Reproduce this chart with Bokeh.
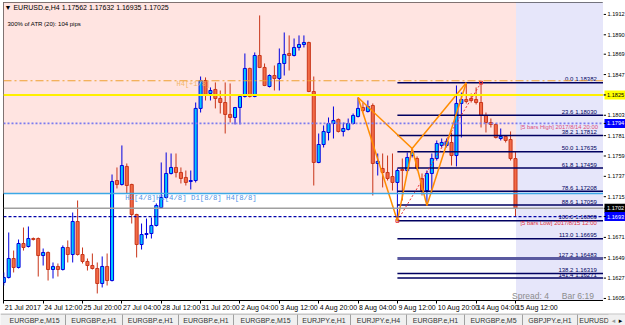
import math
from bokeh.plotting import figure
from bokeh.layouts import column, row
from bokeh.models import (Range1d, FixedTicker, Span, LinearAxis, CustomJSTickFormatter)
from bokeh.embed import file_html
from bokeh.resources import INLINE
from bokeh.core.properties import value

# ---------------- data ----------------
symbol = "EURUSD.e,H4"
atr_text = "300% of ATR (20):   104 pips"

date_ticks = [0, 8, 16, 24, 32, 40, 48, 56, 64, 72, 80, 88, 96, 104]
date_labels = ["21 Jul 2017", "24 Jul 12:00", "25 Jul 20:00", "27 Jul 04:00", "28 Jul 12:00",
               "31 Jul 20:00", "2 Aug 04:00", "3 Aug 12:00", "4 Aug 20:00", "8 Aug 04:00",
               "9 Aug 12:00", "10 Aug 20:00", "14 Aug 04:00", "15 Aug 12:00"]

price_ticks = [1.1912, 1.1890, 1.1869, 1.1847, 1.1825, 1.1803, 1.1781, 1.1759, 1.1737,
               1.1715, 1.1671, 1.1649, 1.1627, 1.1605]

opens = [1.16223, 1.16277, 1.16482, 1.16385, 1.16644, 1.16612, 1.16698, 1.16698, 1.16514, 1.16547,
         1.16363, 1.16396, 1.16363, 1.16601, 1.16525, 1.16882, 1.16525, 1.16450, 1.16406, 1.16374,
         1.16212, 1.16396, 1.16244, 1.17325, 1.17282, 1.17477, 1.17282, 1.16958, 1.16633, 1.16741,
         1.16752, 1.16839, 1.17033, 1.17141, 1.17401, 1.17466, 1.17412, 1.17358, 1.17314, 1.17325,
         1.18104, 1.18406, 1.18266, 1.18309, 1.18212, 1.18168, 1.18039, 1.18006, 1.18114, 1.18233,
         1.18536, 1.18233, 1.18676, 1.18547, 1.18341, 1.18460, 1.18428, 1.18590, 1.18698, 1.18676,
         1.18763, 1.18795, 1.18817, 1.18287, 1.17520, 1.17714, 1.17844, 1.17941, 1.17985, 1.17855,
         1.17877, 1.17941, 1.18017, 1.18114, 1.18071, 1.18136, 1.17509, 1.17455, 1.17412, 1.17368,
         1.17304, 1.17444, 1.17433, 1.17595, 1.17563, 1.17347, 1.17217, 1.17401, 1.17563, 1.17704,
         1.17704, 1.17736, 1.17595, 1.18158, 1.18201, 1.18212, 1.18201, 1.18168, 1.18028, 1.17952,
         1.17931, 1.17779, 1.17801, 1.17768, 1.17562]
highs = [1.16331, 1.16763, 1.16568, 1.16687, 1.16817, 1.16828, 1.16709, 1.16709, 1.16590, 1.16558,
         1.16439, 1.16428, 1.16623, 1.16677, 1.16979, 1.17109, 1.16601, 1.16482, 1.16536, 1.16439,
         1.16504, 1.16536, 1.17390, 1.17466, 1.17704, 1.17509, 1.17290, 1.16965, 1.16860, 1.16914,
         1.16925, 1.17077, 1.17520, 1.17628, 1.17617, 1.17617, 1.17466, 1.17433, 1.17433, 1.18168,
         1.18449, 1.18439, 1.18331, 1.18385, 1.18298, 1.18385, 1.18374, 1.18120, 1.18244, 1.18698,
         1.18545, 1.18709, 1.19109, 1.18590, 1.18471, 1.18568, 1.18752, 1.18925, 1.18893, 1.18860,
         1.18893, 1.18893, 1.18825, 1.18449, 1.17833, 1.17920, 1.18006, 1.18125, 1.17995, 1.17952,
         1.17995, 1.18049, 1.18222, 1.18168, 1.18190, 1.18158, 1.17617, 1.17617, 1.17595, 1.17617,
         1.17455, 1.17563, 1.17628, 1.17671, 1.17585, 1.17401, 1.17433, 1.17617, 1.17758, 1.17779,
         1.17779, 1.17844, 1.18352, 1.18276, 1.18382, 1.18266, 1.18331, 1.18382, 1.18060, 1.17995,
         1.17942, 1.17887, 1.17812, 1.17855, 1.17632]
lows = [1.16190, 1.16266, 1.16331, 1.16374, 1.16568, 1.16601, 1.16677, 1.16287, 1.16406, 1.16244,
        1.16266, 1.16287, 1.16352, 1.16439, 1.16439, 1.16514, 1.16428, 1.16352, 1.16363, 1.16104,
        1.16169, 1.16190, 1.16234, 1.17239, 1.17271, 1.17185, 1.16860, 1.16493, 1.16579, 1.16698,
        1.16698, 1.16828, 1.17023, 1.17130, 1.17390, 1.17358, 1.17293, 1.17271, 1.17228, 1.17304,
        1.18060, 1.18190, 1.18190, 1.18104, 1.18049, 1.17833, 1.17952, 1.17931, 1.17931, 1.18222,
        1.18222, 1.18225, 1.18540, 1.18345, 1.18331, 1.18298, 1.18298, 1.18460, 1.18514, 1.18666,
        1.18730, 1.18763, 1.18280, 1.17271, 1.17512, 1.17682, 1.17758, 1.17779, 1.17844, 1.17801,
        1.17866, 1.17931, 1.18006, 1.18060, 1.18060, 1.17163, 1.17379, 1.17250, 1.17325, 1.17217,
        1.16889, 1.17109, 1.17412, 1.17574, 1.17433, 1.17163, 1.17055, 1.17185, 1.17541, 1.17682,
        1.17682, 1.17487, 1.17477, 1.17790, 1.18158, 1.18168, 1.18147, 1.17898, 1.17844, 1.17898,
        1.17779, 1.17758, 1.17736, 1.17541, 1.16935]
closes = [1.16277, 1.16482, 1.16385, 1.16644, 1.16601, 1.16698, 1.16687, 1.16514, 1.16547, 1.16363,
          1.16396, 1.16363, 1.16601, 1.16525, 1.16882, 1.16525, 1.16450, 1.16406, 1.16374, 1.16212,
          1.16396, 1.16244, 1.17314, 1.17282, 1.17487, 1.17271, 1.16958, 1.16633, 1.16741, 1.16752,
          1.16839, 1.17055, 1.17141, 1.17401, 1.17466, 1.17412, 1.17347, 1.17304, 1.17325, 1.18104,
          1.18406, 1.18255, 1.18298, 1.18212, 1.18168, 1.18039, 1.18006, 1.18114, 1.18233, 1.18536,
          1.18233, 1.18676, 1.18547, 1.18352, 1.18460, 1.18428, 1.18590, 1.18687, 1.18676, 1.18763,
          1.18795, 1.18817, 1.18287, 1.17520, 1.17714, 1.17855, 1.17941, 1.17974, 1.17855, 1.17887,
          1.17941, 1.18028, 1.18104, 1.18082, 1.18125, 1.17509, 1.17531, 1.17412, 1.17347, 1.17304,
          1.17433, 1.17433, 1.17574, 1.17628, 1.17455, 1.17217, 1.17401, 1.17563, 1.17725, 1.17736,
          1.17747, 1.17595, 1.18158, 1.18201, 1.18179, 1.18190, 1.18168, 1.18028, 1.17952, 1.17931,
          1.17790, 1.17801, 1.17758, 1.17562, 1.17025]

# Murrey-style levels and zones
level_yellow = 1.1825
level_orange = 1.18403
level_cyan = 1.17185
zone_split_bar = 104.1

# Fibonacci retracement / expansion
fib_levels = [0.0, 23.6, 38.2, 50.0, 61.8, 78.6, 88.6, 100.0, 113.0, 127.2, 138.2, 141.4]
fib_prices = [1.18382, 1.18030, 1.17812, 1.17635, 1.17459, 1.17208, 1.17059, 1.16889,
              1.16695, 1.16483, 1.16319, 1.16271]
fib_low_bar, fib_high_bar = 80, 97

# harmonic zigzag points X, A, B, C, D
zz_bars = [72, 80, 83, 86, 94]
zz_prices = [1.18222, 1.16889, 1.17671, 1.17055, 1.18382]
zz_pairs = [(0, 1), (1, 2), (0, 2), (2, 3), (3, 4), (2, 4)]

tabs = ["EURGBP.e,M15", "EURGBP.e,H1", "EURGBP.e,H1", "EURGBP.e,H1", "EURGBP.e,M15",
        "EURJPY.e,H1", "EURJPY.e,H4", "EURGBP.e,H1", "EURGBP.e,M5", "GBPJPY.e,H1", "EURUSD"]
tab_edges = [3, 65, 122, 178, 233, 297, 350, 406, 464, 522, 577, 610]

# ---------------- main chart ----------------
X0, X1 = -0.061, 121.89
Y0, Y1 = 1.16028, 1.19249
BAR_PX = 600.0 / (X1 - X0)
PPX = (Y1 - Y0) / 298.0
FONT = "Liberation Sans"

p = figure(frame_width=600, frame_height=298, x_range=Range1d(X0, X1), y_range=Range1d(Y0, Y1),
           y_axis_location=None, output_backend="svg", toolbar_location=None,
           min_border_left=3, min_border_top=2, min_border_right=0, min_border_bottom=12,
           background_fill_color="white", border_fill_color="white")
p.grid.visible = False
p.outline_line_color = "black"
p.outline_line_width = 1

# background zones
p.quad(left=[X0 - 1], right=[zone_split_bar], top=[Y1 + 0.001], bottom=[level_cyan],
       fill_color="#FFE4E1", line_color=None)
p.quad(left=[zone_split_bar], right=[X1 + 1], top=[Y1 + 0.001], bottom=[Y0 - 0.001],
       fill_color="#E6E6FA", line_color=None)

# candles
n = len(opens)
bull = dict(x=[], top=[], bottom=[], high=[], low=[])
bear = dict(x=[], top=[], bottom=[], high=[], low=[])
for i in range(n):
    o, h, l, c = opens[i], highs[i], lows[i], closes[i]
    top, bot = max(o, c), min(o, c)
    if top - bot < 0.00008:
        mid = (top + bot) / 2
        top, bot = mid + 0.00004, mid - 0.00004
    d = bull if c >= o else bear
    d["x"].append(i); d["top"].append(top); d["bottom"].append(bot)
    d["high"].append(h); d["low"].append(l)

BULL_FILL, BULL_LINE = "#00C8FF", "#0000E0"
BEAR_FILL, BEAR_LINE = "#F26A46", "#C8361A"
p.segment(x0=bull["x"], y0=bull["low"], x1=bull["x"], y1=bull["high"], line_color=BULL_LINE, line_width=1)
p.segment(x0=bear["x"], y0=bear["low"], x1=bear["x"], y1=bear["high"], line_color=BEAR_LINE, line_width=1)
p.vbar(x=bull["x"], width=0.62, top=bull["top"], bottom=bull["bottom"],
       fill_color=BULL_FILL, line_color=BULL_LINE, line_width=1)
p.vbar(x=bear["x"], width=0.62, top=bear["top"], bottom=bear["bottom"],
       fill_color=BEAR_FILL, line_color=BEAR_LINE, line_width=1)

# horizontal levels
hi5 = max(highs[-5:])
lo5 = min(lows[-5:])
p.add_layout(Span(location=level_cyan, dimension="width", line_color="#3CA8E6", line_width=1.5))
p.add_layout(Span(location=closes[-1], dimension="width", line_color="#A0A0A0", line_width=1.5))
p.add_layout(Span(location=lo5, dimension="width", line_color="#0000A8", line_width=1.2, line_dash="3 2"))
p.add_layout(Span(location=hi5, dimension="width", line_color="#7B7BEF", line_width=1.8, line_dash="2 2"))
p.add_layout(Span(location=level_yellow, dimension="width", line_color="#FFF000", line_width=2))
p.add_layout(Span(location=level_orange, dimension="width", line_color="#F0A030", line_width=1.2, line_dash="8 3 2 3"))

# fibonacci lines
fx0 = [fib_low_bar] * len(fib_prices)
fx1 = [X1 + 1] * len(fib_prices)
fcol = ["#5A5AA0" if lv == 127.2 else "#000060" for lv in fib_levels]
fw = [3 if lv == 127.2 else 1.5 for lv in fib_levels]
p.segment(x0=fx0, y0=fib_prices, x1=fx1, y1=fib_prices, line_color=fcol, line_width=fw)
p.text(x=[120.87] * len(fib_prices), y=fib_prices,
       text=[f"{lv:.1f}  {pr:.5f}" for lv, pr in zip(fib_levels, fib_prices)],
       text_font=value(FONT), text_font_size="6px", text_color="#000060",
       text_align="right", text_baseline="bottom", y_offset=-0.5)

# fib base line (dotted red)
p.line(x=[fib_low_bar, fib_high_bar], y=[fib_prices[7], fib_prices[0]],
       line_color="#E83030", line_width=1, line_dash="2 2")
p.scatter(x=[fib_low_bar, fib_high_bar], y=[fib_prices[7], fib_prices[0]], marker="square",
          size=3, line_color="#E83030", fill_color=None)

# zigzag
p.segment(x0=[zz_bars[a] for a, b in zz_pairs], y0=[zz_prices[a] for a, b in zz_pairs],
          x1=[zz_bars[b] for a, b in zz_pairs], y1=[zz_prices[b] for a, b in zz_pairs],
          line_color="#FF8C00", line_width=1.5)

# texts
p.text(x=[0.15], y=[1.19195],
       text=[f"\u25BC {symbol}  {opens[-1]:.5f} {highs[-1]:.5f} {lows[-1]:.5f} {closes[-1]:.5f}"],
       text_font=value(FONT), text_font_size="7px", text_color="black",
       text_align="left", text_baseline="middle")
p.text(x=[0.75], y=[1.19022], text=[atr_text], text_font=value(FONT), text_font_size="6px",
       text_color="black", text_align="left", text_baseline="middle")
p.text(x=[35.1], y=[1.18363], text=["H4[+1/8]"], text_font=value("Liberation Mono"),
       text_font_size="7px", text_color="#F2B46A", text_align="left", text_baseline="middle")
p.text(x=[24.7], y=[1.17131], text=["H1[4/8]H1[4/8] D1[8/8] H4[8/8]"],
       text_font=value("Liberation Mono"), text_font_size="7.3px", text_color="#4F94E8",
       text_align="left", text_baseline="middle")
p.text(x=[105.0], y=[1.17898], text=["[5 bars High] 2017/8/14 20:00"], text_font=value(FONT),
       text_font_size="5.9px", text_color="#E0507A", text_align="left", text_baseline="middle")
p.text(x=[105.0], y=[1.16871], text=["[5 bars Low] 2017/8/15 12:00"], text_font=value(FONT),
       text_font_size="5.9px", text_color="#E03040", text_align="left", text_baseline="middle")
p.text(x=[103.3], y=[1.16082], text=["Spread: 4"], text_font=value(FONT), text_font_size="8.5px",
       text_color="#8C8C8C", text_align="left", text_baseline="middle")
p.text(x=[113.4], y=[1.16082], text=["Bar  6:19"], text_font=value(FONT), text_font_size="8.5px",
       text_color="#8C8C8C", text_align="left", text_baseline="middle")

# ---------------- time axis ----------------
xa = p.xaxis[0]
xa.ticker = FixedTicker(ticks=date_ticks)
xa.major_label_overrides = {t: "" for t in date_ticks}
xa.major_label_text_font_size = "1px"
xa.major_label_standoff = 0
xa.axis_line_color = "black"
xa.major_tick_line_color = "black"
xa.major_tick_in = 0
xa.major_tick_out = 3
xa.minor_tick_line_color = None

# date labels start at their tick (terminal style): second axis with ticks at the label centres
EM = {"0": .556, "1": .556, "2": .556, "3": .556, "4": .556, "5": .556, "6": .556, "7": .556,
      "8": .556, "9": .556, " ": .278, ":": .278, "J": .5, "u": .556, "l": .222, "A": .667, "g": .556}
DATE_FS = 7.0
centres = [t + (1.0 + 0.5 * DATE_FS * sum(EM.get(ch, .556) for ch in s)) / BAR_PX
           for t, s in zip(date_ticks, date_labels)]
xa2 = LinearAxis(ticker=FixedTicker(ticks=centres),
                 formatter=CustomJSTickFormatter(args=dict(labels=date_labels),
                                                 code="return labels[index];"))
xa2.axis_line_color = None
xa2.major_tick_line_color = None
xa2.major_tick_in = 0
xa2.major_tick_out = 0
xa2.minor_tick_line_color = None
xa2.major_label_standoff = 0
xa2.major_label_text_font = FONT
xa2.major_label_text_font_size = "7px"
xa2.major_label_text_color = "black"
p.add_layout(xa2, "below")

# ---------------- price scale (shares the price mapping of the chart) ----------------
def trunc4(v):
    return f"{math.floor(v * 1e4 + 1e-6) / 1e4:.4f}"

s = figure(frame_width=22, frame_height=310, x_range=Range1d(0, 22),
           y_range=Range1d(Y0 - 12 * PPX, Y1), x_axis_location=None, y_axis_location=None,
           output_backend="svg", toolbar_location=None,
           min_border_left=0, min_border_right=0, min_border_top=2, min_border_bottom=0,
           background_fill_color="white", border_fill_color="white")
s.grid.visible = False
s.outline_line_color = None
s.segment(x0=[0] * len(price_ticks), y0=price_ticks, x1=[2.5] * len(price_ticks), y1=price_ticks,
          line_color="black", line_width=1)
s.text(x=[4] * len(price_ticks), y=price_ticks, text=[f"{v:.4f}" for v in price_ticks],
       text_font=value(FONT), text_font_size="5.6px", text_color="black",
       text_align="left", text_baseline="middle")
tag_prices = [level_yellow, hi5, closes[-1], lo5]
tag_bg = ["#FFFF00", "#0000FF", "#000000", "#0000FF"]
tag_fg = ["#000000", "#FFFFFF", "#FFFFFF", "#FFFFFF"]
s.quad(left=[1] * 4, right=[22] * 4, top=[v + 4.5 * PPX for v in tag_prices],
       bottom=[v - 4.5 * PPX for v in tag_prices], fill_color=tag_bg, line_color=None)
s.segment(x0=[0] * 4, y0=tag_prices, x1=[2.5] * 4, y1=tag_prices, line_color="black")
s.text(x=[3.5] * 4, y=tag_prices, text=[trunc4(v) for v in tag_prices], text_font=value(FONT),
       text_font_size="5.6px", text_color=tag_fg, text_align="left", text_baseline="middle")

# ---------------- tab strip ----------------
t = figure(width=625, height=13, x_range=Range1d(0, 625), y_range=Range1d(13, 0),
           output_backend="svg", toolbar_location=None, min_border=0,
           background_fill_color="#F0F0F0", border_fill_color="#F0F0F0")
t.axis.visible = False
t.grid.visible = False
t.outline_line_color = None
t.segment(x0=[0], y0=[0.5], x1=[625], y1=[0.5], line_color="#A0A0A0", line_width=1)
t.segment(x0=tab_edges[1:-1], y0=[1] * (len(tab_edges) - 2), x1=tab_edges[1:-1],
          y1=[12] * (len(tab_edges) - 2), line_color="#A0A0A0", line_width=1)
t.text(x=[(a + b) / 2 for a, b in zip(tab_edges[:-1], tab_edges[1:])], y=[7] * len(tabs),
       text=tabs, text_font=value(FONT), text_font_size="7px", text_color="#333333",
       text_align="center", text_baseline="middle")
t.quad(left=[608], right=[625], top=[1], bottom=[13], fill_color="#F0F0F0", line_color=None)
t.text(x=[613, 620], y=[7, 7], text=["\u25C2", "\u25B8"], text_font=value("DejaVu Sans"),
       text_font_size="7px", text_color=["#999999", "#000000"], text_align="center",
       text_baseline="middle")

layout = column(row(p, s, spacing=0), t, spacing=0)
open("out.html", "w").write(file_html(layout, INLINE))
